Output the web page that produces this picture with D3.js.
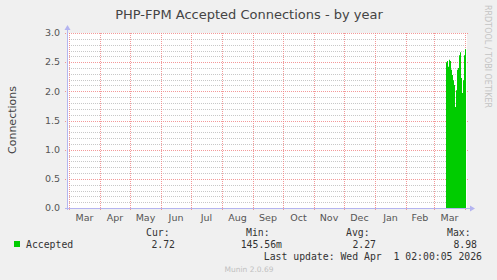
<!DOCTYPE html>
<html>
<head>
<meta charset="utf-8">
<script src="https://cdn.jsdelivr.net/npm/d3@7/dist/d3.min.js"></script>
<style>
html,body{margin:0;padding:0;background:#f0f0f0;}
svg{display:block;}
</style>
</head>
<body>
<svg id="chart" width="497" height="280"></svg>
<script>
// ---- data ----
const title = "PHP-FPM Accepted Connections - by year";
const yLabel = "Connections";
const yTicks = [0.0, 0.5, 1.0, 1.5, 2.0, 2.5, 3.0];
const monthLabels = ["Mar","Apr","May","Jun","Jul","Aug","Sep","Oct","Nov","Dec","Jan","Feb","Mar"];
const dates = ["2026-03-13","2026-03-14","2026-03-15","2026-03-16","2026-03-17","2026-03-18","2026-03-19",
  "2026-03-20","2026-03-21","2026-03-22","2026-03-23","2026-03-24","2026-03-25","2026-03-26",
  "2026-03-27","2026-03-28","2026-03-29","2026-03-30","2026-03-31","2026-04-01"];
const accepted = [2.50,2.52,2.42,2.54,2.52,2.37,2.28,2.19,2.11,1.73,2.02,2.37,2.40,2.62,
  2.67,2.23,1.97,2.19,2.62,2.72];
const legendName = "Accepted";
const legendHeads = ["Cur:","Min:","Avg:","Max:"];
const legendValues = ["2.72","145.56m","2.27","8.98"];
const lastUpdate = "Last update: Wed Apr  1 02:00:05 2026";
const footer = "Munin 2.0.69";
const sideText = "RRDTOOL / TOBI OETIKER";

// ---- layout ----
const svg = d3.select("#chart");
const X0 = 67, X1 = 467, Y0 = 208, Y1 = 33;
const start = new Date(Date.UTC(2025, 1, 27));
const end = d3.utcDay.offset(start, 400);
const x = d3.scaleUtc().domain([start, end]).range([X0, X1]);
const y = d3.scaleLinear().domain([0, 3]).range([Y0, Y1]);
const sans = "DejaVu Sans, sans-serif";
const mono = "DejaVu Sans Mono, monospace";

svg.append("rect").attr("width",497).attr("height",280).attr("fill","#f0f0f0");
svg.append("rect").attr("x",X0).attr("y",Y1).attr("width",X1-X0).attr("height",Y0-Y1).attr("fill","#ffffff");

// minor horizontal grid
const minor = d3.range(1, 30).map(i => i/10).filter(v => Math.abs(v*2 - Math.round(v*2)) > 1e-6);
svg.append("g").selectAll("line").data(minor).join("line")
  .attr("x1", X0).attr("x2", X1)
  .attr("y1", d => Math.round(y(d)) + 0.5).attr("y2", d => Math.round(y(d)) + 0.5)
  .attr("stroke", "#c8c8c8").attr("stroke-dasharray", "1,1");

// major horizontal grid
svg.append("g").selectAll("line").data(yTicks.filter(v => v > 0)).join("line")
  .attr("x1", X0 - 2).attr("x2", X1 + 2)
  .attr("y1", d => Math.round(y(d)) + 0.5).attr("y2", d => Math.round(y(d)) + 0.5)
  .attr("stroke", "#f08080").attr("stroke-opacity", 0.8).attr("stroke-dasharray", "1,1");

// vertical month grid
const months = d3.utcMonth.range(d3.utcMonth.ceil(start), end);
svg.append("g").selectAll("line").data(months).join("line")
  .attr("x1", d => Math.round(x(d)) + 0.5).attr("x2", d => Math.round(x(d)) + 0.5)
  .attr("y1", Y1).attr("y2", Y0 + 2)
  .attr("stroke", "#f08080").attr("stroke-opacity", 0.8).attr("stroke-dasharray", "1,1");

// area
const pts = dates.map((d, i) => ({t: new Date(d + "T00:00:00Z"), v: accepted[i]}));
pts.push({t: d3.utcDay.offset(pts[pts.length-1].t, 1), v: pts[pts.length-1].v});
svg.append("path").datum(pts)
  .attr("d", d3.area().curve(d3.curveStepAfter).x(d => x(d.t)).y0(y(0)).y1(d => y(d.v)))
  .attr("fill", "#00cc00");

// axes
const axisColor = "#b4b4f0";
svg.append("line").attr("x1", X0+0.5).attr("x2", X0+0.5).attr("y1", Y0+2).attr("y2", Y1-3)
  .attr("stroke", axisColor);
svg.append("line").attr("x1", X0-2).attr("x2", X1+3).attr("y1", Y0+0.5).attr("y2", Y0+0.5)
  .attr("stroke", axisColor);
svg.append("path").attr("d", `M${X0-2.5},${Y1-3} L${X0+3.5},${Y1-3} L${X0+0.5},${Y1-8} Z`).attr("fill", axisColor);
svg.append("path").attr("d", `M${X1+3},${Y0-2.5} L${X1+3},${Y0+3.5} L${X1+8},${Y0+0.5} Z`).attr("fill", axisColor);

// y tick labels
svg.append("g").selectAll("text").data(yTicks).join("text")
  .attr("x", 60).attr("y", d => y(d)).attr("dy", "0.35em")
  .attr("text-anchor", "end").attr("font-family", sans).attr("font-size", 9.5)
  .attr("fill", "#555").text(d => d.toFixed(1));

// x month labels
svg.append("g").selectAll("text").data(monthLabels).join("text")
  .attr("x", (d, i) => {
    const m = d3.utcMonth.offset(d3.utcMonth.ceil(start), i);
    const n = d3.utcMonth.offset(m, 1);
    return (x(m) + x(n)) / 2;
  })
  .attr("y", 218).attr("dy", "0.35em")
  .attr("text-anchor", "middle").attr("font-family", sans).attr("font-size", 9.5)
  .attr("fill", "#555").text(d => d);

// title
svg.append("text").attr("x", 249).attr("y", 14).attr("dy", "0.35em")
  .attr("text-anchor", "middle").attr("font-family", sans).attr("font-size", 13)
  .attr("fill", "#444").text(title);

// y label
svg.append("text").attr("transform", "translate(12,120) rotate(-90)").attr("dy", "0.35em")
  .attr("text-anchor", "middle").attr("font-family", sans).attr("font-size", 11)
  .attr("fill", "#444").text(yLabel);

// side text
svg.append("text").attr("transform", "translate(488,5) rotate(90)").attr("dy", "0.35em")
  .attr("text-anchor", "start").attr("font-family", sans).attr("font-size", 8)
  .attr("fill", "#c4c4c4").text(sideText);

// legend
svg.append("rect").attr("x", 14).attr("y", 241).attr("width", 6).attr("height", 6).attr("fill", "#00cc00");
svg.append("text").attr("x", 26).attr("y", 244.3).attr("dy", "0.35em")
  .attr("font-family", mono).attr("font-size", 9.8).attr("fill", "#333").text(legendName);
const headX = [146, 246, 346, 447];
const valEnd = [175, 282, 376, 477];
svg.append("g").selectAll("text").data(legendHeads).join("text")
  .attr("x", (d, i) => headX[i]).attr("y", 232.5).attr("dy", "0.35em")
  .attr("font-family", mono).attr("font-size", 9.8).attr("fill", "#333").text(d => d);
svg.append("g").selectAll("text").data(legendValues).join("text")
  .attr("x", (d, i) => valEnd[i]).attr("y", 244.3).attr("dy", "0.35em").attr("text-anchor", "end")
  .attr("font-family", mono).attr("font-size", 9.8).attr("fill", "#333").text(d => d);
svg.append("text").attr("x", 482).attr("y", 256.5).attr("dy", "0.35em").attr("text-anchor", "end")
  .attr("font-family", mono).attr("font-size", 9.8).attr("fill", "#333")
  .attr("xml:space", "preserve").style("white-space", "pre").text(lastUpdate);
svg.append("text").attr("x", 249).attr("y", 269).attr("dy", "0.35em").attr("text-anchor", "middle")
  .attr("font-family", sans).attr("font-size", 7.5).attr("fill", "#c0c0c0").text(footer);
</script>
</body>
</html>
